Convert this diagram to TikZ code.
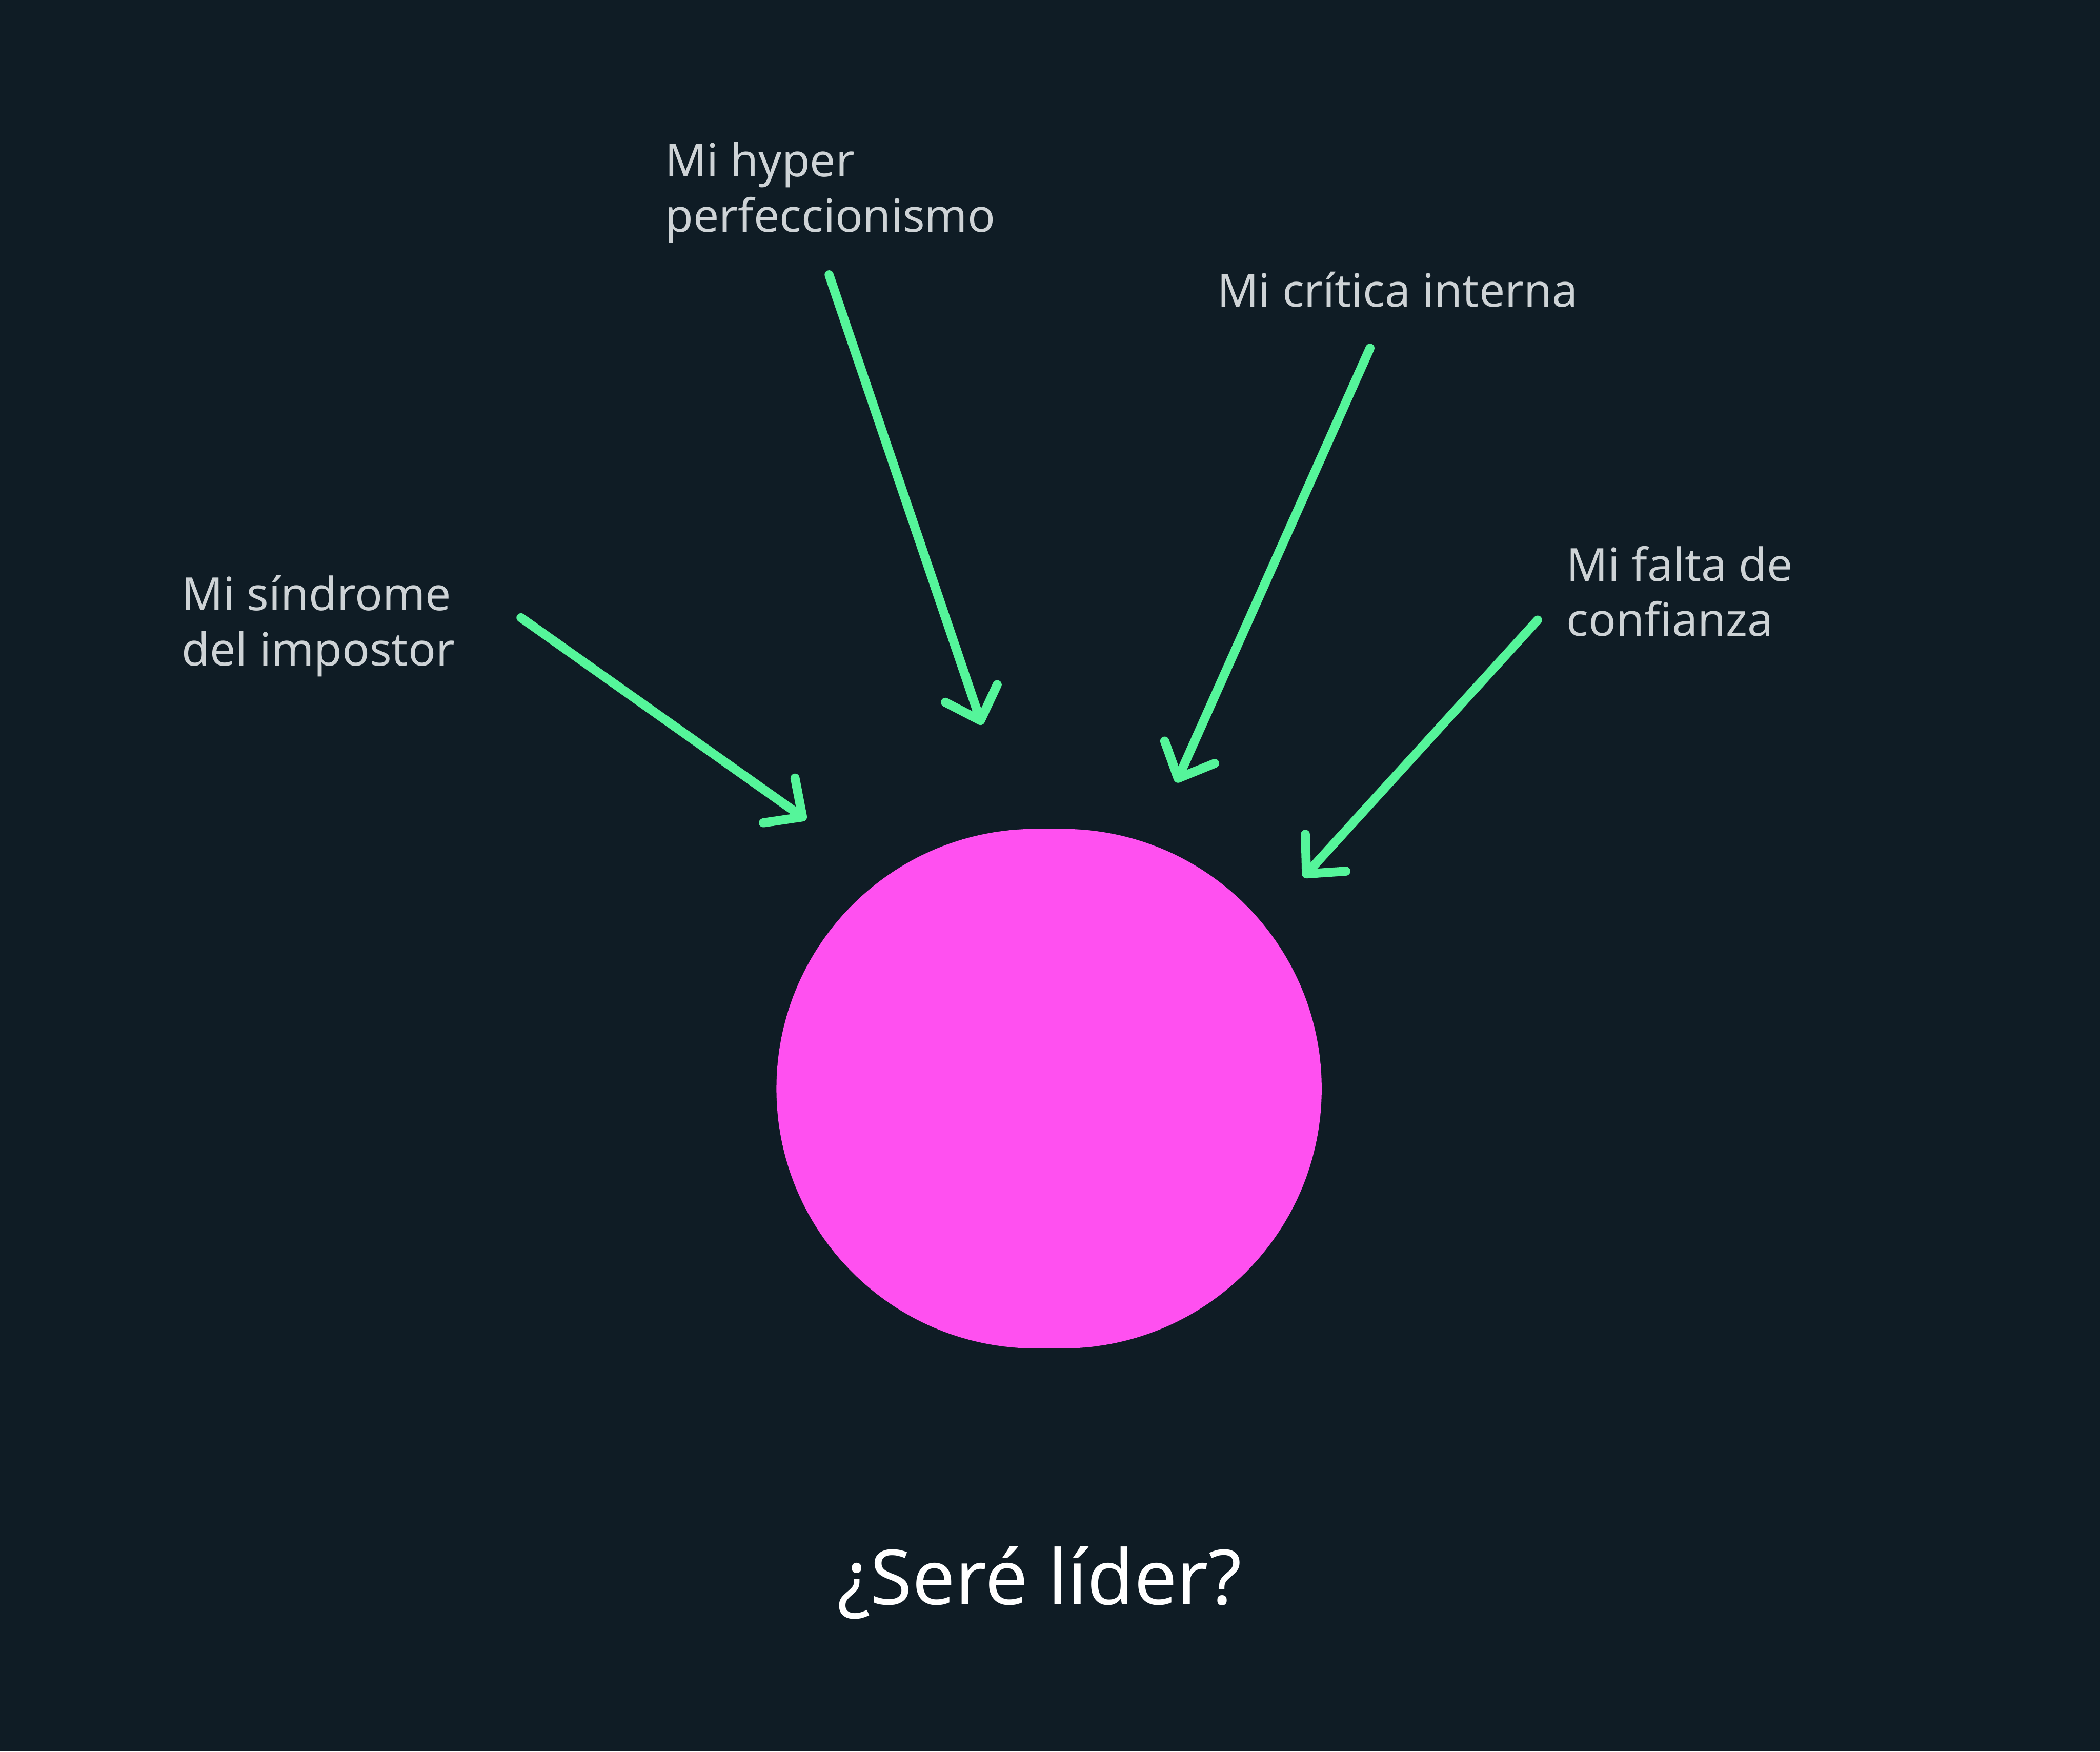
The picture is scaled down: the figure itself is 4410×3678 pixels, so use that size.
\documentclass[tikz,border=0pt]{standalone}
\usepackage{fontspec}
\setmainfont{Noto Sans}
\usetikzlibrary{arrows.meta}
\definecolor{bgc}{HTML}{0F1C25}
\definecolor{pinkc}{HTML}{FF50F0}
\definecolor{greenc}{HTML}{55F59A}
\definecolor{labelc}{HTML}{CED3D6}
\tikzset{
  lbl/.style={anchor=base west, inner sep=0pt, align=left, text=labelc, font=\fontsize{9.6pt}{11.6pt}\selectfont},
  arr/.style={draw=greenc, line width=1.9pt, line cap=round, line join=round,
    -{Straight Barb[length=6pt, width=11.5pt, round]}},
}
\begin{document}
\begin{tikzpicture}[x=0.1pt,y=-0.1pt]
\fill[bgc] (0,0) rectangle (4410,3678);
\useasboundingbox (0,0) rectangle (4410,3678);
% central shape
\node (ball) [fill=pinkc, rounded corners=54.5pt, minimum width=114.5pt, minimum height=109.1pt, inner sep=0pt] at (2203,2286) {};
% labels (base anchor = baseline of last line)
\node (hyper) [lbl] at (1395,487) {Mi hyper\\perfeccionismo};
\node (critica) [lbl] at (2554,644) {Mi crítica interna};
\node (impostor) [lbl] at (380,1398) {Mi síndrome\\del impostor};
\node (confianza) [lbl] at (3288,1336) {Mi falta de\\confianza};
\node (title) [anchor=base, inner sep=0pt, text=white, font=\fontsize{16pt}{19pt}\selectfont] at (2183,3369) {¿Seré líder?};
% arrow ends
\coordinate (s1) at (1094,1297); \coordinate (t1) at (1693,1721);
\coordinate (s2) at (1741,577);  \coordinate (t2) at (2062,1522);
\coordinate (s3) at (2877,731);  \coordinate (t3) at (2470,1643);
\coordinate (s4) at (3229,1302); \coordinate (t4) at (2737,1842);
\draw[arr] (s1) -- (t1);
\draw[arr] (s2) -- (t2);
\draw[arr] (s3) -- (t3);
\draw[arr] (s4) -- (t4);
\end{tikzpicture}
\end{document}
